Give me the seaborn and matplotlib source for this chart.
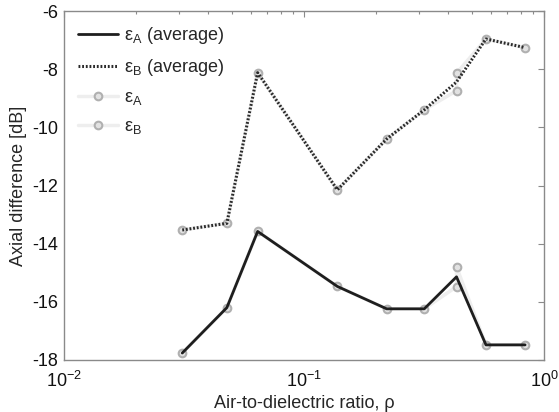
import seaborn as sns
import matplotlib.pyplot as plt
import matplotlib.ticker as mticker
import numpy as np

# Air-to-dielectric ratio (two samples at the 0.432 point)
rho_samples = [0.0311, 0.0477, 0.0641, 0.1377, 0.221, 0.317, 0.432, 0.432, 0.573, 0.834]
eps_a_samples = [-17.76, -16.2, -13.58, -15.47, -16.24, -16.24, -15.48, -14.8, -17.48, -17.48]
eps_b_samples = [-13.53, -13.3, -8.12, -12.15, -10.4, -9.4, -8.74, -8.14, -6.96, -7.26]

rho_avg = [0.0311, 0.0477, 0.0641, 0.1377, 0.221, 0.317, 0.432, 0.573, 0.834]
eps_a_avg = [-17.76, -16.2, -13.58, -15.47, -16.24, -16.24, -15.14, -17.48, -17.48]
eps_b_avg = [-13.53, -13.3, -8.12, -12.15, -10.4, -9.4, -8.44, -6.96, -7.26]

sns.set_style('white')
plt.rcParams['font.family'] = ['Liberation Sans', 'DejaVu Sans']
plt.rcParams['mathtext.fontset'] = 'custom'
plt.rcParams['mathtext.rm'] = 'Liberation Sans'
plt.rcParams['mathtext.it'] = 'Liberation Sans:italic'
plt.rcParams['axes.unicode_minus'] = False

fig = plt.figure(figsize=(5.59, 4.12), dpi=100)
ax = fig.add_axes([64 / 559, 1 - 360 / 412, 480 / 559, 349 / 412])

sample_kw = dict(color='#eeeeee', linewidth=2.5, marker='o', markersize=5.5,
                 markerfacecolor='#e2e2e2', markeredgecolor='#b0b0b0',
                 markeredgewidth=1.5, estimator=None, sort=False)

# average lines first (for legend order), samples underneath via zorder
sns.lineplot(x=rho_avg, y=eps_a_avg, ax=ax, color='#1e1e1e', linewidth=2,
             label=r'ε$_\mathregular{A}$ (average)', zorder=3)
sns.lineplot(x=rho_avg, y=eps_b_avg, ax=ax, color='#2a2a2a', linewidth=2.2,
             linestyle=(0, (0.6, 0.6)), label=r'ε$_\mathregular{B}$ (average)', zorder=3)
sns.lineplot(x=rho_samples, y=eps_a_samples, ax=ax, label=r'ε$_\mathregular{A}$',
             zorder=2, **sample_kw)
sns.lineplot(x=rho_samples, y=eps_b_samples, ax=ax, label=r'ε$_\mathregular{B}$',
             zorder=2, **sample_kw)

ax.set_xscale('log')
ax.set_xlim(1e-2, 1)
ax.set_ylim(-18, -6)
ax.set_yticks(np.arange(-18, -5, 2))
ax.xaxis.set_major_locator(mticker.LogLocator(base=10))
ax.xaxis.set_minor_locator(mticker.LogLocator(base=10, subs=np.arange(2, 10)))
ax.xaxis.set_minor_formatter(mticker.NullFormatter())

ax.set_xlabel('Air-to-dielectric ratio, ρ', fontsize=13, labelpad=3)
ax.set_ylabel('Axial difference [dB]', fontsize=13, labelpad=4)

for s in ax.spines.values():
    s.set_color('#8a8a8a')
    s.set_linewidth(1)
ax.tick_params(which='both', direction='in', top=True, right=True,
               color='#8a8a8a', labelsize=13, labelcolor='#111111')
ax.tick_params(which='major', length=4, width=0.8, pad=4)
ax.tick_params(axis='x', which='major', pad=8)
ax.tick_params(which='minor', length=2.5, width=0.8)

ax.legend(loc='upper left', frameon=False, fontsize=13, handlelength=2.2,
          handletextpad=0.3, labelspacing=0.6, borderaxespad=0.4,
          bbox_to_anchor=(0.0, 1.0))

fig.savefig('out.png', dpi=100)
